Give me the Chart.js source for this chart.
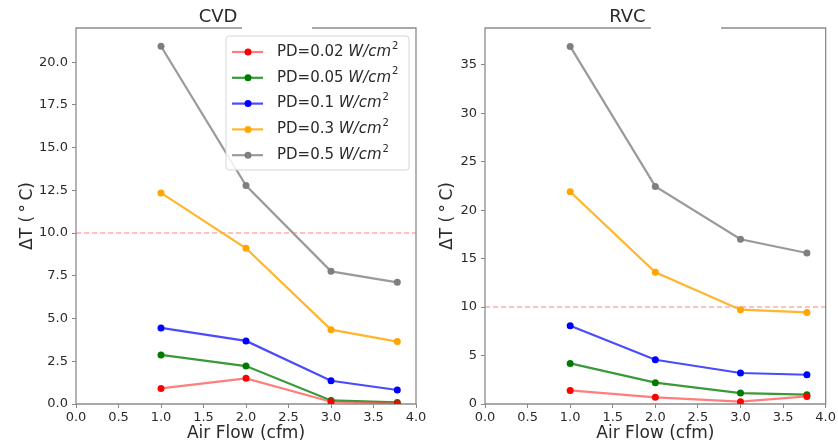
<!DOCTYPE html>
<html><head><meta charset="utf-8">
<script src="https://cdn.jsdelivr.net/npm/chart.js@4.4.0/dist/chart.umd.min.js"></script>
<style>
html,body{margin:0;padding:0;background:#fff;}
#wrap{position:relative;width:838px;height:444px;overflow:hidden;background:#fff;}
#c1{position:absolute;left:0;top:0;width:440px;height:444px;}
#c2{position:absolute;left:420px;top:0;width:418px;height:444px;}
</style></head><body>
<div id="wrap"><canvas id="c1" width="440" height="444"></canvas><canvas id="c2" width="418" height="444"></canvas></div>
<script>
// --- data ---
const airFlow=[1.0,2.0,3.0,3.78];
const pdValues=["0.02","0.05","0.1","0.3","0.5"];
const cvd002=[0.91,1.50,0.13,0.02];
const cvd005=[2.87,2.22,0.21,0.09];
const cvd01=[4.45,3.69,1.36,0.82];
const cvd03=[12.35,9.11,4.35,3.65];
const cvd05=[20.93,12.78,7.76,7.12];
const rvc002=[1.40,0.69,0.24,0.78];
const rvc005=[4.19,2.20,1.13,0.96];
const rvc01=[8.08,4.57,3.20,3.02];
const rvc03=[21.9,13.6,9.73,9.45];
const rvc05=[36.9,22.45,17.0,15.58];
const limitX=[0,4];
const limitY=[10,10];

const lineColors=["rgba(255,70,70,0.7)","#3a9a3a","#4a4aff","#ffb52e","#9a9a9a"];
const dotColors=["#ff0000","#007a00","#0000ff","#ffa500","#7f7f7f"];
const txt="#2a2a2a";

function pts(ys){ return ys.map((y,i)=>({x:airFlow[i],y:y})); }

function makeSets(series){
  let sets=series.map((s,i)=>({
    pd:pdValues[i], data:pts(s),
    borderColor:lineColors[i], borderWidth:2.2,
    pointBackgroundColor:dotColors[i], pointBorderColor:dotColors[i],
    pointRadius:3.5, pointBorderWidth:0, tension:0
  }));
  sets.push({data:limitX.map((x,i)=>({x:x,y:limitY[i]})),
    borderColor:"rgba(255,90,90,0.5)",borderWidth:1.5,borderDash:[5,3],pointRadius:0});
  return sets;
}

// frame round the plot (top spine has a gap like the picture)
const frame={id:'frame',beforeDatasetsDraw(chart){
  const {ctx,chartArea:a}=chart;
  ctx.save();ctx.strokeStyle='#8c8c8c';ctx.lineWidth=1.3;
  ctx.beginPath();
  ctx.moveTo(a.left+166,a.top);ctx.lineTo(a.left,a.top);ctx.lineTo(a.left,a.bottom);
  ctx.lineTo(a.right,a.bottom);ctx.lineTo(a.right,a.top);ctx.lineTo(a.left+236,a.top);
  ctx.stroke();ctx.restore();
}};

const panelTitle={id:'panelTitle',afterDraw(chart,args,opts){
  const {ctx,chartArea:a}=chart;
  ctx.save();ctx.fillStyle=txt;ctx.font='18px "DejaVu Sans"';
  ctx.textAlign='center';ctx.textBaseline='middle';
  ctx.fillText(opts.text,(a.left+a.right)/2-28,17);
  ctx.restore();
}};

// legend inside the plot, top right
const pdLegend={id:'pdLegend',afterDatasetsDraw(chart,args,opts){
  if(!opts.show) return;
  const {ctx,chartArea:a}=chart;
  const items=chart.data.datasets.filter(d=>d.pd);
  const w=183,h=134,x=a.right-7-w,y=a.top+8;
  ctx.save();
  ctx.fillStyle='rgba(255,255,255,0.85)';ctx.strokeStyle='#d6d6d6';ctx.lineWidth=1;
  ctx.beginPath();ctx.roundRect(x,y,w,h,3);ctx.fill();ctx.stroke();
  items.forEach((d,i)=>{
    const cy=y+16+i*25.8;
    ctx.strokeStyle=d.borderColor;ctx.lineWidth=2.2;
    ctx.beginPath();ctx.moveTo(x+6,cy);ctx.lineTo(x+37,cy);ctx.stroke();
    ctx.fillStyle=d.pointBackgroundColor;
    ctx.beginPath();ctx.arc(x+22,cy,3.5,0,Math.PI*2);ctx.fill();
    ctx.fillStyle=txt;ctx.textBaseline='middle';ctx.textAlign='left';
    let tx=x+51;
    ctx.font='15px "DejaVu Sans"';
    let s='PD='+d.pd+' ';ctx.fillText(s,tx,cy);tx+=ctx.measureText(s).width;
    ctx.font='italic 15px "DejaVu Sans"';
    ctx.fillText('W/cm',tx,cy);tx+=ctx.measureText('W/cm').width+1;
    ctx.font='10px "DejaVu Sans"';
    ctx.fillText('2',tx,cy-6);
  });
  ctx.restore();
}};

function makeChart(id,series,title,ymax,ystep,yfmt,axisW,padRight,legend){
  return new Chart(document.getElementById(id),{
    type:'line',
    data:{datasets:makeSets(series)},
    options:{
      responsive:false,animation:false,
      layout:{padding:{top:28,right:padRight,bottom:0,left:0}},
      plugins:{legend:{display:false},tooltip:{enabled:false},
        panelTitle:{text:title},pdLegend:{show:legend}},
      scales:{
        x:{type:'linear',min:0,max:4,
          ticks:{stepSize:0.5,includeBounds:false,callback:v=>v.toFixed(1),
            font:{size:13,family:'DejaVu Sans'},color:txt,padding:2,maxRotation:0,autoSkip:false},
          grid:{drawOnChartArea:false,tickLength:4,color:'#888'},
          border:{display:false},
          title:{display:true,text:'Air Flow (cfm)',color:txt,
            font:{size:17,family:'DejaVu Sans'},padding:{top:0,bottom:0}},
          afterFit(s){s.height=40;}},
        y:{type:'linear',min:0,max:ymax,
          ticks:{stepSize:ystep,includeBounds:false,callback:yfmt,
            font:{size:13,family:'DejaVu Sans'},color:txt,padding:4},
          grid:{drawOnChartArea:false,tickLength:4,color:'#888'},
          border:{display:false},
          title:{display:true,text:'ΔT (\u2009°\u2009C)',color:txt,
            font:{size:17,family:'DejaVu Sans'},padding:{top:17,bottom:0}},
          afterFit(s){s.width=axisW;}}
      }
    },
    plugins:[frame,panelTitle,pdLegend]
  });
}

makeChart('c1',[cvd002,cvd005,cvd01,cvd03,cvd05],'CVD',22,2.5,v=>v.toFixed(1),76,24,true);
makeChart('c2',[rvc002,rvc005,rvc01,rvc03,rvc05],'RVC',38.8,5,v=>String(v),65,12,false);
</script>
</body></html>
